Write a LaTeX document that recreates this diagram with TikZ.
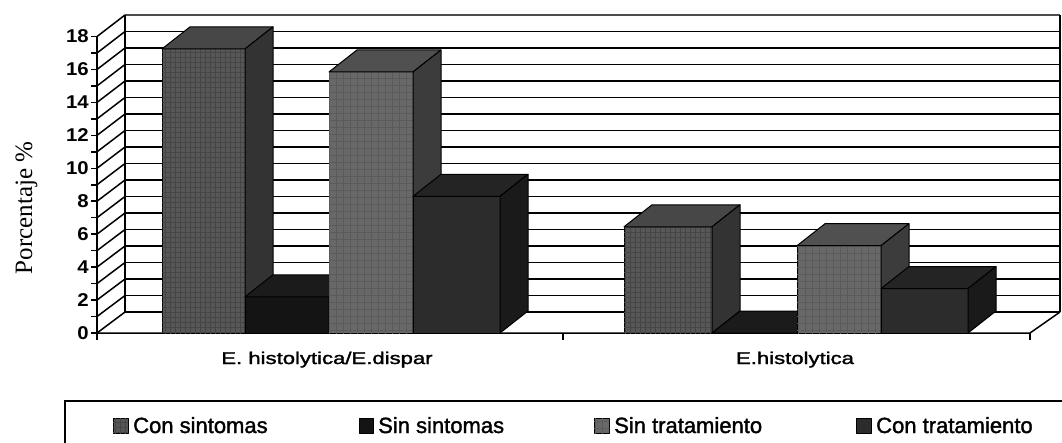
\documentclass[tikz,border=0pt]{standalone}
\usepackage{fontspec}
\setmainfont{Liberation Serif}
\setsansfont{Liberation Sans}
\newfontfamily\heavysans[FakeBold=1.5]{Liberation Sans}
\usetikzlibrary{patterns.meta}
\definecolor{cAf}{HTML}{575757}
\definecolor{cAt}{HTML}{474747}
\definecolor{cAs}{HTML}{333333}
\definecolor{cAl}{HTML}{454545}
\definecolor{cBf}{HTML}{141414}
\definecolor{cBt}{HTML}{1B1B1B}
\definecolor{cBs}{HTML}{0E0E0E}
\definecolor{cCf}{HTML}{686868}
\definecolor{cCt}{HTML}{505050}
\definecolor{cCs}{HTML}{3C3C3C}
\definecolor{cCl}{HTML}{5A5A5A}
\definecolor{cDf}{HTML}{2C2C2C}
\definecolor{cDt}{HTML}{242424}
\definecolor{cDs}{HTML}{1A1A1A}
\tikzset{
  wall/.style={black,line width=1.5pt},
  barline/.style={draw=black,line width=1pt,line join=round},
  texA/.style={postaction={pattern={Lines[angle=0,distance=5pt,line width=.5pt]},pattern color=cAl},
               postaction={pattern={Lines[angle=90,distance=5pt,line width=.5pt]},pattern color=cAl}},
  texC/.style={postaction={pattern={Lines[angle=0,distance=7pt,line width=.5pt]},pattern color=cCl},
               postaction={pattern={Lines[angle=90,distance=7pt,line width=.5pt]},pattern color=cCl}},
  Af/.style={fill=cAf,texA}, At/.style={fill=cAt}, As/.style={fill=cAs},
  Bf/.style={fill=cBf}, Bt/.style={fill=cBt}, Bs/.style={fill=cBs},
  Cf/.style={fill=cCf,texC}, Ct/.style={fill=cCt}, Cs/.style={fill=cCs},
  Df/.style={fill=cDf}, Dt/.style={fill=cDt}, Ds/.style={fill=cDs},
  ylab/.style={font=\sffamily\bfseries\fontsize{18.5}{18.5}\selectfont,anchor=east,xscale=1.1,inner sep=0pt},
  catlab/.style={font=\heavysans\fontsize{17}{17}\selectfont,anchor=base,xscale=1.3,inner sep=0pt},
  leglab/.style={font=\heavysans\fontsize{22}{22}\selectfont,anchor=base west,inner sep=0pt},
}
% x, width, value, front style, top style, side style
\newcommand\drawbar[6]{%
  \path[barline,#4] (#1,333) rectangle ({#1+#2},{333-16.47*#3});
  \path[barline,#5] (#1,{333-16.47*#3}) -- ++(#2,0) -- ++(28,-22) -- ++(-#2,0) -- cycle;
  \path[barline,#6] ({#1+#2},333) -- ++(0,{-16.47*#3}) -- ++(28,-22) -- ++(0,{16.47*#3}) -- cycle;
}
\begin{document}
\begin{tikzpicture}[x=1pt,y=-1pt]
\useasboundingbox (0,0) rectangle (1062,442);
\clip (0,0) rectangle (1062,442);
\fill[white] (0,0) rectangle (1062,442);
% back wall
\draw[wall,black!70] (125,15) -- (1060,15);
\draw[wall] (125,15) -- (125,312);
\draw[wall] (1060,15) -- (1060,312);
\foreach \v in {1,...,17} {
  \draw[wall] (125,{312-16.5*\v}) -- (1060,{312-16.5*\v});
}
% left wall diagonals
\foreach \v in {0,...,18} {
  \draw[wall] (97,{333-16.47*\v}) -- (125,{312-16.5*\v});
  \draw[wall] (91,{333-16.47*\v}) -- (97,{333-16.47*\v});
}
% floor
\draw[wall] (125,312) -- (1060,312);
\draw[wall] (97,333) -- (1030,333) -- (1060,312);
\draw[wall] (97,37) -- (97,340);
\draw[wall] (563,333) -- (563,340);
\draw[wall] (1030,333) -- (1030,340);
% bars group 1
\drawbar{162}{83}{17.25}{Af}{At}{As}
\drawbar{245}{84}{2.2}{Bf}{Bt}{Bs}
\drawbar{329}{84}{15.85}{Cf}{Ct}{Cs}
\drawbar{413}{87}{8.3}{Df}{Dt}{Ds}
% bars group 2
\drawbar{624}{88}{6.45}{Af}{At}{As}
\drawbar{712}{85}{0}{Bf}{Bt}{Bs}
\drawbar{797}{84}{5.3}{Cf}{Ct}{Cs}
\drawbar{881}{87}{2.7}{Df}{Dt}{Ds}
% y labels
\foreach \v in {0,2,...,18} {
  \node[ylab] (y\v) at (89,{333-16.47*\v}) {\v};
}
\node[font=\fontsize{25}{25}\selectfont,rotate=90,anchor=base,inner sep=0pt] (ytitle) at (32,208) {Porcentaje \%};
% category labels
\node[catlab] (cat1) at (327,364) {E. histolytica/E.dispar};
\node[catlab] (cat2) at (795,364) {E.histolytica};
% legend
\draw[line width=1.5pt] (1075,401) -- (65,401) -- (65,470);
\path[barline,Af,line width=.6pt] (113,418) rectangle (128,433);
\node[leglab] (l1) at (133,433) {Con sintomas};
\path[barline,Bf,line width=.6pt] (359,418) rectangle (373,433);
\node[leglab] (l2) at (378,433) {Sin sintomas};
\path[barline,Cf,line width=.6pt] (594,418) rectangle (609,433);
\node[leglab] (l3) at (614,433) {Sin tratamiento};
\path[barline,Df,line width=.6pt] (856,418) rectangle (871,433);
\node[leglab] (l4) at (876,433) {Con tratamiento};
\end{tikzpicture}
\end{document}
